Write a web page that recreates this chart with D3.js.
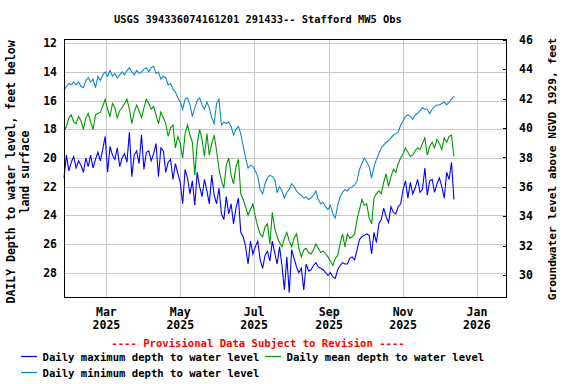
<!DOCTYPE html>
<html>
<head>
<meta charset="utf-8">
<script src="https://cdn.jsdelivr.net/npm/d3@7"></script>
<style>
  body { margin: 0; background: #fff; }
  text { font-family: "DejaVu Sans Mono", monospace; font-weight: bold; }
</style>
</head>
<body>
<script>
// series start date, one reading every 2 days
const startDate = "2025-01-25";
const stepDays = 2;

// Daily minimum depth to water level (ft below land surface)
const minDepth = [15.3,15.0,14.8,14.9,14.7,14.9,14.7,15.0,15.1,14.6,
  14.4,14.7,14.5,15.1,14.3,14.6,14.2,14.0,14.3,13.9,
  14.3,14.1,14.4,14.2,14.0,14.2,13.9,13.7,14.0,14.2,
  13.9,14.1,14.0,13.8,13.7,14.0,13.7,13.6,14.1,14.0,
  14.5,14.3,14.4,14.9,14.8,15.2,15.4,15.8,16.1,16.6,
  15.9,15.8,16.3,17.1,16.5,16.0,15.8,16.3,16.6,16.1,
  16.5,17.2,17.6,16.2,15.9,17.7,17.5,17.6,17.5,17.8,
  18.4,18.0,17.8,18.3,19.2,20.0,20.7,20.5,20.6,20.9,
  21.3,22.2,22.5,21.8,21.4,21.2,21.3,21.5,22.4,22.0,
  22.3,22.8,22.4,22.2,21.8,22.0,22.3,22.5,22.6,22.8,
  22.7,22.9,22.8,22.6,22.3,22.9,23.2,23.1,23.4,23.6,
  23.3,23.9,24.2,23.3,22.7,22.4,22.2,22.3,22.1,22.0,
  21.9,21.6,20.8,20.4,20.0,20.3,20.6,21.4,20.6,20.1,
  19.7,19.3,19.1,18.9,18.8,18.6,18.4,18.3,18.2,17.7,
  17.4,17.1,17.0,17.1,17.3,17.0,16.9,16.7,16.5,16.6,
  16.6,16.9,16.6,16.4,16.3,16.3,16.2,16.1,16.3,16.1,
  15.9,15.7];

// Daily mean depth to water level
const meanDepth = [18.1,17.8,17.2,17.0,17.5,17.6,17.1,17.4,18.0,17.2,
  16.9,17.5,18.0,17.0,16.9,16.8,16.4,15.9,16.6,17.1,
  16.2,16.5,17.2,16.7,16.5,16.2,15.9,16.6,17.6,16.8,
  16.3,16.7,17.2,16.5,15.9,16.2,16.6,16.4,17.0,17.6,
  16.8,17.2,17.6,18.5,17.9,17.7,19.3,18.5,19.0,20.0,
  18.3,17.7,18.4,18.9,21.2,19.0,18.0,18.7,19.9,18.3,
  19.8,19.0,18.4,19.5,20.8,21.6,22.1,20.5,20.0,21.2,
  21.8,20.6,20.1,22.5,22.9,23.4,24.0,23.6,23.2,24.1,
  24.8,25.3,25.5,24.8,24.6,26.0,23.8,24.9,25.5,25.9,
  26.2,25.6,25.2,25.8,26.2,25.6,25.3,26.3,26.9,26.4,
  26.3,26.6,26.7,26.4,26.0,26.3,26.6,26.5,26.7,26.9,
  27.2,27.5,27.0,26.8,26.0,25.3,26.2,25.3,25.6,25.5,
  25.3,24.3,23.6,22.9,23.3,23.2,24.2,24.6,22.8,22.5,
  22.3,22.5,21.7,21.1,22.0,21.3,20.8,21.0,20.4,20.0,
  19.7,19.3,19.6,19.9,19.8,19.5,19.3,19.4,19.0,18.6,
  19.8,19.2,18.9,19.3,18.7,19.0,19.4,18.6,18.9,18.5,
  18.4,19.9];

// Daily maximum depth to water level
const maxDepth = [21.4,19.8,20.9,20.3,19.9,20.7,20.2,20.5,21.0,20.0,
  20.6,19.8,20.7,20.1,19.6,20.2,19.4,18.5,21.0,19.2,
  19.8,20.1,19.3,20.6,20.0,19.7,20.3,18.2,21.3,19.8,
  19.5,20.4,18.4,20.8,19.6,19.5,20.2,19.7,19.0,21.3,
  19.3,19.5,21.0,20.3,20.1,21.5,20.4,21.1,21.7,23.2,
  20.8,21.4,22.5,21.6,23.3,21.0,22.0,22.7,21.5,22.3,
  23.2,21.2,22.6,23.2,22.1,23.9,24.3,22.7,23.9,23.2,
  24.6,23.5,22.8,25.2,25.5,26.2,27.4,25.8,26.7,26.2,
  25.8,27.1,27.7,26.8,26.5,27.2,25.8,26.6,27.4,26.2,
  27.5,29.2,26.9,29.4,26.4,27.0,27.6,28.0,27.7,29.2,
  27.4,27.9,27.8,27.5,27.3,27.6,27.7,27.8,28.0,28.2,
  28.0,28.3,28.4,27.8,27.5,27.3,27.4,27.4,27.0,26.9,
  27.1,26.4,25.7,25.5,25.4,25.3,25.4,26.7,25.2,25.9,
  24.6,24.3,23.5,24.1,24.5,23.4,23.8,23.9,23.4,23.2,
  22.2,21.6,22.8,21.7,22.5,22.1,21.5,22.4,22.2,20.7,
  22.6,21.6,21.5,22.4,21.8,21.4,22.0,22.8,21.0,21.5,
  20.3,22.9];

const depthTicks = [12, 14, 16, 18, 20, 22, 24, 26, 28];
const levelTicks = [30, 32, 34, 36, 38, 40, 42, 44, 46];

const seriesInfo = [
  { label: "Daily maximum depth to water level", values: maxDepth, color: "#0000ff" },
  { label: "Daily mean depth to water level", values: meanDepth, color: "#009900" },
  { label: "Daily minimum depth to water level", values: minDepth, color: "#1188cc" }
];

const width = 576, height = 384;
const plotLeft = 64, plotRight = 506, plotTop = 39, plotBottom = 297;

const svg = d3.select("body").append("svg")
  .attr("width", width)
  .attr("height", height)
  .style("display", "block");

svg.append("rect").attr("width", width).attr("height", height).attr("fill", "#fff");

const x = d3.scaleUtc()
  .domain([new Date("2025-01-25"), new Date("2026-01-25")])
  .range([plotLeft, plotRight]);

const y = d3.scaleLinear().domain([11.7, 29.7]).range([plotTop, plotBottom]);
// right axis reads a little differently from the left one in the picture
const yRight = d3.scaleLinear().domain([28.5, 46.06]).range([plotBottom, plotTop]);

const t0 = new Date(startDate);
const dateAt = i => d3.utcDay.offset(t0, i * stepDays);

// gridlines
const grid = svg.append("g").attr("stroke", "#c8c8c8").attr("stroke-width", 1)
  .attr("shape-rendering", "crispEdges");
grid.selectAll(".h").data(depthTicks).join("line")
  .attr("x1", plotLeft).attr("x2", plotRight)
  .attr("y1", d => Math.round(y(d)) + 0.5).attr("y2", d => Math.round(y(d)) + 0.5);
const monthTicks = x.ticks(d3.utcMonth.every(2));
grid.selectAll(".v").data(monthTicks).join("line")
  .attr("y1", plotTop).attr("y2", plotBottom)
  .attr("x1", d => Math.round(x(d)) + 0.5).attr("x2", d => Math.round(x(d)) + 0.5);

// lines
const line = d3.line()
  .x((d, i) => x(dateAt(i)))
  .y(d => y(d));

svg.append("g").selectAll("path")
  .data(seriesInfo)
  .join("path")
  .attr("fill", "none")
  .attr("stroke", d => d.color)
  .attr("stroke-width", 1.1)
  .attr("d", d => line(d.values));

// frame
svg.append("rect")
  .attr("x", plotLeft + 0.5).attr("y", plotTop + 0.5)
  .attr("width", plotRight - plotLeft).attr("height", plotBottom - plotTop)
  .attr("fill", "none").attr("stroke", "#000").attr("stroke-width", 1)
  .attr("shape-rendering", "crispEdges");

// left axis labels
svg.append("g")
  .attr("font-size", 11.5)
  .attr("text-anchor", "end")
  .selectAll("text").data(depthTicks).join("text")
  .attr("x", 57).attr("y", d => y(d)).attr("dy", "0.36em")
  .text(d => d);

// right axis
const rAxis = svg.append("g")
  .attr("transform", `translate(${plotRight},0)`)
  .call(d3.axisRight(yRight).tickValues(levelTicks).tickSize(-3).tickPadding(13));
rAxis.select(".domain").remove();
rAxis.selectAll("line").attr("stroke", "#000").attr("shape-rendering", "crispEdges");
rAxis.selectAll("text")
  .attr("font-size", 11.5)
  .attr("font-family", "DejaVu Sans Mono")
  .attr("font-weight", "bold")
  .attr("fill", "#000");

// bottom axis labels, two lines each
const xl = svg.append("g").attr("font-size", 11.5).attr("text-anchor", "middle")
  .selectAll("text").data(monthTicks).join("text")
  .attr("x", d => x(d));
xl.append("tspan").attr("x", d => x(d)).attr("y", 316).text(d => d3.utcFormat("%b")(d));
xl.append("tspan").attr("x", d => x(d)).attr("y", 328.5).text(d => d3.utcFormat("%Y")(d));

// title
svg.append("text")
  .attr("x", 258).attr("y", 23)
  .attr("text-anchor", "middle").attr("font-size", 10.4)
  .text("USGS 394336074161201 291433-- Stafford MW5 Obs");

// axis titles
const lt = svg.append("text")
  .attr("transform", "translate(15,172) rotate(-90)")
  .attr("text-anchor", "middle").attr("font-size", 11.5);
lt.append("tspan").attr("x", 0).attr("y", 0).text("DAILY Depth to water level, feet below");
lt.append("tspan").attr("x", 0).attr("y", 14).text("land surface");

svg.append("text")
  .attr("transform", "translate(556,169) rotate(-90)")
  .attr("text-anchor", "middle").attr("font-size", 11.2)
  .text("Groundwater level above NGVD 1929, feet");

// provisional note
svg.append("text")
  .attr("x", 258).attr("y", 347)
  .attr("text-anchor", "middle").attr("font-size", 10.6)
  .attr("fill", "#ff0000")
  .text("---- Provisional Data Subject to Revision ----");

// legend
const legendPos = [[21, 357], [265, 357], [21, 373]];
const lg = svg.append("g").selectAll("g").data(seriesInfo).join("g")
  .attr("transform", (d, i) => `translate(${legendPos[i][0]},${legendPos[i][1]})`);
lg.append("line").attr("x1", 0).attr("x2", 16).attr("y1", -0.5).attr("y2", -0.5)
  .attr("stroke", d => d.color).attr("stroke-width", 1.2);
lg.append("text").attr("x", 21.5).attr("y", 3.8).attr("font-size", 10.6)
  .text(d => d.label);
</script>
</body>
</html>
